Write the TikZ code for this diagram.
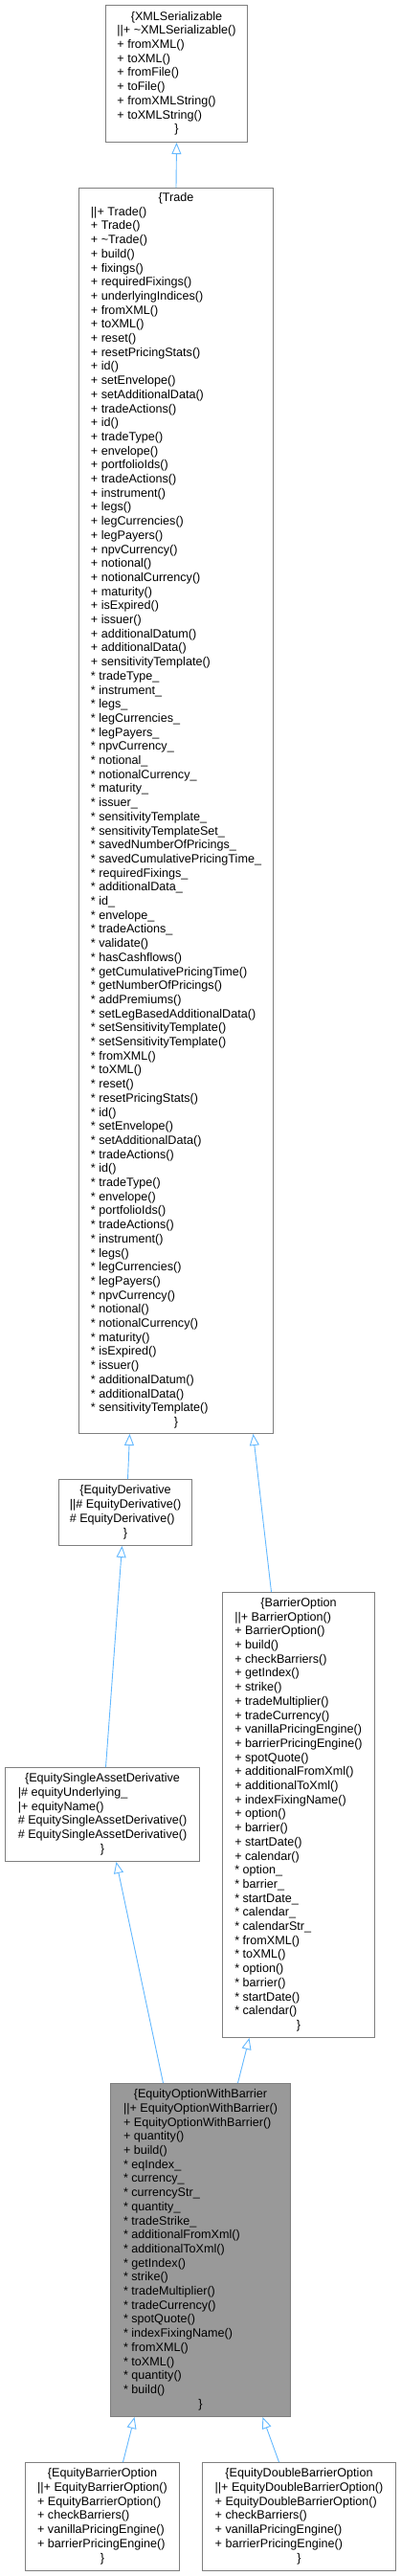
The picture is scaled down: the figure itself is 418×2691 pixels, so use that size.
\documentclass[tikz,border=0pt]{standalone}
\usepackage{fontspec}
\setmainfont{Liberation Sans}
\usetikzlibrary{arrows.meta}
\definecolor{edgeblue}{HTML}{63B8FF}
\definecolor{boxline}{HTML}{7F7F7F}
\definecolor{current}{HTML}{999999}
\newcommand{\umlclass}[2]{\begin{tabular}{@{}l@{}}\multicolumn{1}{@{}c@{}}{\{#1}\\#2\\\multicolumn{1}{@{}c@{}}{\}}\end{tabular}}

\begin{document}
\begin{tikzpicture}[x=1pt,y=-1pt]

      \tikzset{cls/.style = {shape=rectangle,draw=boxline,line width=1pt,anchor=north west,inner sep=0pt,font=\fontsize{12.6}{14.7}\selectfont}}
      \tikzset{inherit/.style = {draw=edgeblue,line width=0.9pt,-{Triangle[open,length=12pt,width=10pt]}}}
      \useasboundingbox (0,0) rectangle (418,2691);
      % classes
      \node[cls,minimum width=148pt,minimum height=143pt] (xml) at (110,5) {\umlclass{XMLSerializable}{||+ \textasciitilde XMLSerializable()\\+ fromXML()\\+ toXML()\\+ fromFile()\\+ toFile()\\+ fromXMLString()\\+ toXMLString()}};
      \node[cls,minimum width=203pt,minimum height=1301pt] (trade) at (82,196) {\umlclass{Trade}{||+ Trade()\\+ Trade()\\+ \textasciitilde Trade()\\+ build()\\+ fixings()\\+ requiredFixings()\\+ underlyingIndices()\\+ fromXML()\\+ toXML()\\+ reset()\\+ resetPricingStats()\\+ id()\\+ setEnvelope()\\+ setAdditionalData()\\+ tradeActions()\\+ id()\\+ tradeType()\\+ envelope()\\+ portfolioIds()\\+ tradeActions()\\+ instrument()\\+ legs()\\+ legCurrencies()\\+ legPayers()\\+ npvCurrency()\\+ notional()\\+ notionalCurrency()\\+ maturity()\\+ isExpired()\\+ issuer()\\+ additionalDatum()\\+ additionalData()\\+ sensitivityTemplate()\\{}* tradeType\_\\{}* instrument\_\\{}* legs\_\\{}* legCurrencies\_\\{}* legPayers\_\\{}* npvCurrency\_\\{}* notional\_\\{}* notionalCurrency\_\\{}* maturity\_\\{}* issuer\_\\{}* sensitivityTemplate\_\\{}* sensitivityTemplateSet\_\\{}* savedNumberOfPricings\_\\{}* savedCumulativePricingTime\_\\{}* requiredFixings\_\\{}* additionalData\_\\{}* id\_\\{}* envelope\_\\{}* tradeActions\_\\{}* validate()\\{}* hasCashflows()\\{}* getCumulativePricingTime()\\{}* getNumberOfPricings()\\{}* addPremiums()\\{}* setLegBasedAdditionalData()\\{}* setSensitivityTemplate()\\{}* setSensitivityTemplate()\\{}* fromXML()\\{}* toXML()\\{}* reset()\\{}* resetPricingStats()\\{}* id()\\{}* setEnvelope()\\{}* setAdditionalData()\\{}* tradeActions()\\{}* id()\\{}* tradeType()\\{}* envelope()\\{}* portfolioIds()\\{}* tradeActions()\\{}* instrument()\\{}* legs()\\{}* legCurrencies()\\{}* legPayers()\\{}* npvCurrency()\\{}* notional()\\{}* notionalCurrency()\\{}* maturity()\\{}* isExpired()\\{}* issuer()\\{}* additionalDatum()\\{}* additionalData()\\{}* sensitivityTemplate()}};
      \node[cls,minimum width=139pt,minimum height=69pt] (eqderiv) at (61,1545) {\umlclass{EquityDerivative}{||\# EquityDerivative()\\\# EquityDerivative()}};
      \node[cls,minimum width=159pt,minimum height=465pt] (barrier) at (232,1663) {\umlclass{BarrierOption}{||+ BarrierOption()\\+ BarrierOption()\\+ build()\\+ checkBarriers()\\+ getIndex()\\+ strike()\\+ tradeMultiplier()\\+ tradeCurrency()\\+ vanillaPricingEngine()\\+ barrierPricingEngine()\\+ spotQuote()\\+ additionalFromXml()\\+ additionalToXml()\\+ indexFixingName()\\+ option()\\+ barrier()\\+ startDate()\\+ calendar()\\{}* option\_\\{}* barrier\_\\{}* startDate\_\\{}* calendar\_\\{}* calendarStr\_\\{}* fromXML()\\{}* toXML()\\{}* option()\\{}* barrier()\\{}* startDate()\\{}* calendar()}};
      \node[cls,minimum width=203pt,minimum height=98pt] (single) at (5,1846) {\umlclass{EquitySingleAssetDerivative}{|\# equityUnderlying\_\\|+ equityName()\\\# EquitySingleAssetDerivative()\\\# EquitySingleAssetDerivative()}};
      \node[cls,fill=current,minimum width=188pt,minimum height=348pt] (withbarrier) at (115,2176) {\umlclass{EquityOptionWithBarrier}{||+ EquityOptionWithBarrier()\\+ EquityOptionWithBarrier()\\+ quantity()\\+ build()\\{}* eqIndex\_\\{}* currency\_\\{}* currencyStr\_\\{}* quantity\_\\{}* tradeStrike\_\\{}* additionalFromXml()\\{}* additionalToXml()\\{}* getIndex()\\{}* strike()\\{}* tradeMultiplier()\\{}* tradeCurrency()\\{}* spotQuote()\\{}* indexFixingName()\\{}* fromXML()\\{}* toXML()\\{}* quantity()\\{}* build()}};
      \node[cls,minimum width=161pt,minimum height=113pt] (single barrier) at (26,2572) {\umlclass{EquityBarrierOption}{||+ EquityBarrierOption()\\+ EquityBarrierOption()\\+ checkBarriers()\\+ vanillaPricingEngine()\\+ barrierPricingEngine()}};
      \node[cls,minimum width=202pt,minimum height=113pt] (double barrier) at (211,2572) {\umlclass{EquityDoubleBarrierOption}{||+ EquityDoubleBarrierOption()\\+ EquityDoubleBarrierOption()\\+ checkBarriers()\\+ vanillaPricingEngine()\\+ barrierPricingEngine()}};
      %edges
      \draw[inherit] (trade.north) -- (xml.south);
      \draw[inherit] ([xshift=2.5pt]eqderiv.north) -- ([xshift=-48.5pt]trade.south);
      \draw[inherit] ([xshift=-28.5pt]barrier.north) -- ([xshift=80.5pt]trade.south);
      \draw[inherit] ([xshift=3.5pt]single.north) -- ([xshift=-3.5pt]eqderiv.south);
      \draw[inherit] ([xshift=-39pt]withbarrier.north) -- ([xshift=14.5pt]single.south);
      \draw[inherit] ([xshift=39pt]withbarrier.north) -- ([xshift=-51.5pt]barrier.south);
      \draw[inherit] ([xshift=21.5pt]single barrier.north) -- ([xshift=-69pt]withbarrier.south);
      \draw[inherit] ([xshift=-21pt]double barrier.north) -- ([xshift=65pt]withbarrier.south);
\end{tikzpicture}
\end{document}
